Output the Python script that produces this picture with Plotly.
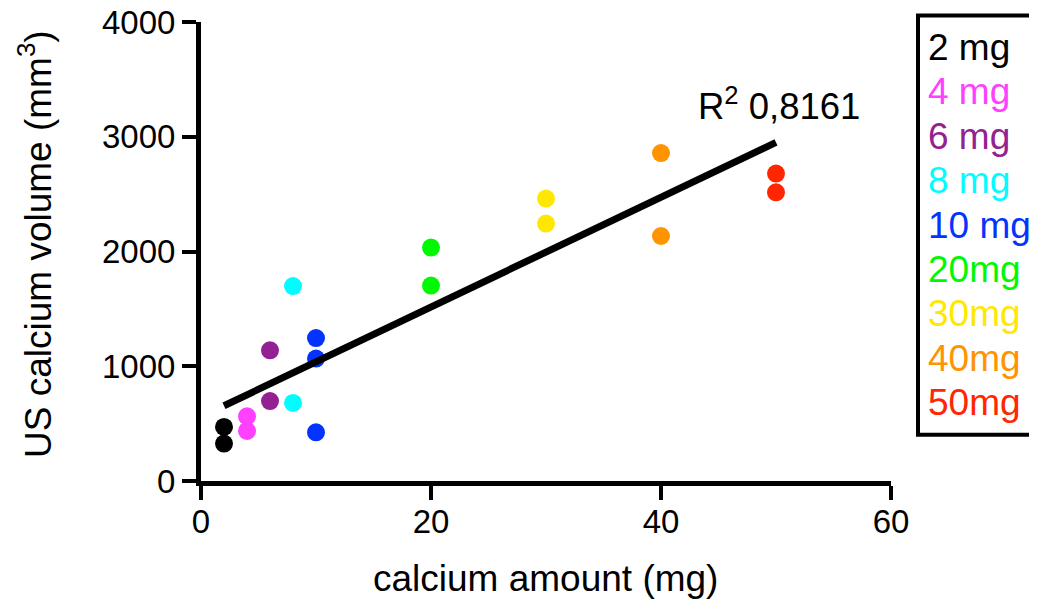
import numpy as np
import plotly.graph_objects as go

# ---- data ----
groups = ["2 mg", "4 mg", "6 mg", "8 mg", "10 mg", "20mg", "30mg", "40mg", "50mg"]
amount_mg = [2, 4, 6, 8, 10, 20, 30, 40, 50]
volumes = [
    [471, 326],
    [564, 436],
    [1139, 697],
    [1699, 680],
    [1246, 1067, 424],
    [2034, 1703],
    [2461, 2243],
    [2858, 2135],
    [2679, 2516],
]
colors = ["#000000", "#FF40FF", "#942192", "#00FDFF", "#0433FF",
          "#00F900", "#FFE800", "#FF9300", "#FF2600"]
r2_label = "R<sup>2</sup> 0,8161"
x_title = "calcium amount (mg)"
y_title = "US calcium volume (mm<sup>3</sup>)"
x_ticks = [0, 20, 40, 60]
y_ticks = [0, 1000, 2000, 3000, 4000]

FONT = "Liberation Sans, Arial, Helvetica, sans-serif"

# ---- layout geometry (screen pixels; page body has an 8px margin) ----
OFF = 8
W, H = 1037 - OFF, 602 - OFF
L, T = 201 - OFF, 22 - OFF
PW, PH = 690, 459
R = W - L - PW
B = H - T - PH


def px_x(px):
    return (px - OFF - L) / PW


def px_y(py):
    return (T + PH - (py - OFF)) / PH


fig = go.Figure()

all_x, all_y = [], []
for g, amt, vals, col in zip(groups, amount_mg, volumes, colors):
    xs = [amt] * len(vals)
    all_x += xs
    all_y += vals
    fig.add_trace(go.Scatter(
        x=xs, y=vals, mode="markers", name=g,
        marker=dict(size=18, color=col, line=dict(width=0)),
        showlegend=False, cliponaxis=False,
    ))

# linear regression line over the data range
slope, intercept = np.polyfit(all_x, all_y, 1)
fx = [min(all_x), max(all_x)]
fy = [slope * v + intercept for v in fx]
fig.add_trace(go.Scatter(
    x=fx, y=fy, mode="lines", line=dict(color="black", width=7),
    showlegend=False, cliponaxis=False,
))

annotations = []
# axis titles
annotations.append(dict(
    text=x_title, xref="paper", yref="paper", x=px_x(545), y=px_y(578),
    xanchor="center", yanchor="middle", showarrow=False,
    font=dict(family=FONT, size=37, color="black"),
))
annotations.append(dict(
    text=y_title, xref="paper", yref="paper", x=px_x(36), y=px_y(244),
    xanchor="center", yanchor="middle", showarrow=False, textangle=-90,
    font=dict(family=FONT, size=37, color="black"),
))
# R^2 label
annotations.append(dict(
    text=r2_label, xref="paper", yref="paper", x=px_x(696), y=px_y(104),
    xanchor="left", yanchor="middle", showarrow=False,
    font=dict(family=FONT, size=36.5, color="black"),
))
# legend texts
for i, (g, col) in enumerate(zip(groups, colors)):
    annotations.append(dict(
        text=g, xref="paper", yref="paper", x=px_x(926), y=px_y(47.5 + 44.4 * i),
        xanchor="left", yanchor="middle", showarrow=False,
        font=dict(family=FONT, size=37, color=col),
    ))

shapes = [dict(
    type="rect", xref="paper", yref="paper",
    x0=px_x(918), x1=px_x(1050), y0=px_y(434.7), y1=px_y(15.5),
    line=dict(color="black", width=4), fillcolor="rgba(0,0,0,0)",
)]

axis_common = dict(
    showgrid=False, zeroline=False, showline=True, linecolor="black", linewidth=5,
    ticks="outside", ticklen=14, tickwidth=4, tickcolor="black", automargin=False,
    ticklabeloverflow="allow",
    tickfont=dict(family=FONT, size=33, color="black"),
)

fig.update_layout(
    width=W, height=H,
    margin=dict(l=L, r=R, t=T, b=B, autoexpand=False),
    plot_bgcolor="white", paper_bgcolor="white",
    xaxis=dict(range=[0, 60], tickvals=x_ticks, ticklabelstandoff=-7, **axis_common),
    yaxis=dict(range=[0, 4000], tickvals=y_ticks, **axis_common),
    annotations=annotations, shapes=shapes,
    showlegend=False,
)

fig.write_html("out.html")
